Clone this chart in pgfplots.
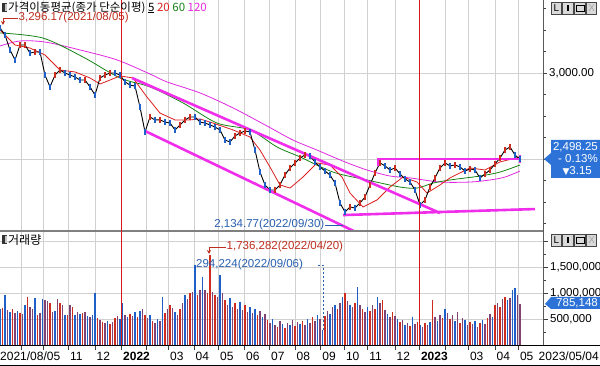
\documentclass[border=0pt]{standalone}
\usepackage{pgfplots}
\pgfplotsset{compat=1.18}
\usepackage{pgfplotstable}
\usetikzlibrary{arrows.meta}
\usepackage{fontspec}
\setmainfont{Liberation Sans}
\newfontfamily\kr{Noto Sans CJK KR}
\newfontfamily\sym{DejaVu Sans}

\definecolor{upred}{RGB}{205,45,30}
\definecolor{dnblue}{RGB}{30,95,200}
\definecolor{mixp}{RGB}{128,66,115}
\definecolor{ma20}{RGB}{220,30,30}
\definecolor{ma60}{RGB}{20,130,20}
\definecolor{ma120}{RGB}{225,40,225}
\definecolor{trend}{RGB}{240,45,235}
\definecolor{janline}{RGB}{215,25,25}
\definecolor{gridg}{RGB}{208,208,208}
\definecolor{boxblue}{RGB}{45,115,215}
\definecolor{annred}{RGB}{190,45,30}
\definecolor{annblue}{RGB}{40,95,175}

\pgfplotsset{
  months/.style={xtick={4.34,8.66,13.66,19,24.3,29.34,33.7,38.8,43.7,48.9,53.9,59,64.14,68.86,73.54,79,83.86,89,93.66,99,103.66}},
  volbar/.style={ycomb, line width=1.9pt, no markers},
}

% price close (x = 5-px slot index), class r = up, b = down
\pgfplotstableread{
k c d
0 3262 b
1 3221 b
2 3134 b
3 3076 b
4 3163 r
5 3163 r
6 3116 b
7 3122 r
8 3122 b
9 2988 b
10 2919 b
11 2988 r
12 3017 r
13 3000 b
14 2988 b
15 2977 b
16 2959 b
17 2959 r
18 2919 b
19 2872 b
20 2971 r
21 2988 r
22 3000 r
23 3000 b
24 2988 b
25 2948 b
26 2930 b
27 2924 b
28 2802 b
29 2657 b
30 2744 r
31 2727 b
32 2727 r
33 2715 b
34 2709 b
35 2669 b
36 2698 r
37 2727 r
38 2744 r
39 2744 b
40 2715 b
41 2709 b
42 2698 b
43 2686 b
44 2669 b
45 2610 b
46 2599 b
47 2634 r
48 2651 r
49 2663 r
50 2657 b
51 2552 b
52 2424 b
53 2349 b
54 2320 b
55 2320 r
56 2349 r
57 2407 r
58 2448 r
59 2477 r
60 2506 r
61 2523 r
62 2517 b
63 2483 b
64 2454 b
65 2430 b
66 2407 b
67 2360 b
68 2244 b
69 2192 b
70 2221 r
71 2215 b
72 2244 r
73 2279 r
74 2349 r
75 2419 r
76 2477 r
77 2460 b
78 2436 b
79 2448 r
80 2413 b
81 2384 b
82 2366 b
83 2320 b
84 2233 b
85 2262 r
86 2337 r
87 2390 r
88 2448 r
89 2477 r
90 2460 b
91 2465 r
92 2454 b
93 2430 b
94 2442 r
95 2436 b
96 2390 b
97 2413 r
98 2436 r
99 2471 r
100 2506 r
101 2552 r
102 2570 r
103 2523 b
104 2498 b
}\pricetab

\pgfplotstableread{
k v
0 3250
3 3163
6 3145
9 3105
12 3017
15 3006
18 2971
20 2936
22 2959
24 2983
26.6 2971
29.4 2860
32 2767
35 2727
38 2727
40 2733
42.6 2709
46.6 2669
50 2628
52 2552
54 2453
56 2349
58 2331
60.6 2395
63.4 2477
66 2465
68.4 2395
70 2302
72.6 2221
75.4 2262
78 2337
80.6 2395
83.4 2366
85.4 2302
88 2349
90 2390
94 2448
97 2436
100 2483
104 2512
}\matwenty

\pgfplotstableread{
k v
0 3233
8.6 3203
16.6 3093
24 2971
30 2919
36.6 2826
43.4 2709
50 2669
55.4 2570
60 2512
66.6 2424
73.4 2378
80 2337
83.4 2331
86.6 2360
90 2378
96 2401
100 2424
104 2465
}\masixty

\pgfplotstableread{
k v
0 3157
4 3186
9 3180
16 3134
23.4 3076
30 2994
33.4 2948
40 2884
46.6 2797
53.4 2692
58.6 2610
63.4 2552
69 2483
73.4 2436
78 2401
82 2390
88 2366
94 2366
98 2378
101 2395
104 2430
}\maonetwenty

% volume, x = 2.5-px slot index j; three tables by bar colour
\pgfplotstableread{
j v
1 717000
5 698000
8 620000
11 930000
15 581000
20 814000
24 814000
27 581000
29 736000
33 620000
39 523000
41 446000
44 407000
46 523000
52 601000
55 543000
58 581000
61 465000
66 620000
68 775000
72 698000
76 1008000
79 969000
83 1008000
84 1736282
86 969000
90 872000
94 814000
98 775000
103 581000
107 485000
111 349000
114 329000
118 368000
121 465000
125 543000
130 562000
135 698000
138 1008000
142 814000
145 698000
148 659000
150 698000
153 872000
157 640000
160 446000
164 368000
167 446000
170 426000
173 872000
177 523000
180 504000
184 426000
188 446000
192 426000
195 523000
198 775000
200 736000
202 930000
}\volred

\pgfplotstableread{
j v
0 698000
2 969000
4 640000
7 659000
10 775000
14 911000
17 891000
22 659000
26 581000
30 581000
32 601000
35 562000
37 581000
38 1008000
43 465000
48 504000
49 814000
51 543000
54 640000
56 659000
60 581000
63 504000
65 930000
70 640000
74 969000
78 1550000
81 1318000
88 1357000
92 911000
96 833000
100 736000
102 698000
105 543000
109 504000
113 407000
116 388000
120 407000
123 504000
127 581000
129 294224
132 601000
134 775000
137 930000
140 775000
143 1124000
147 736000
151 930000
155 601000
159 504000
162 388000
165 543000
168 388000
172 446000
175 465000
178 698000
182 465000
186 485000
190 465000
193 485000
197 543000
203 872000
205 1066000
206 1105000
}\volblue

\pgfplotstableread{
j v
3 678000
6 620000
9 601000
12 736000
13 698000
16 620000
18 872000
19 853000
21 640000
23 891000
25 775000
28 775000
31 640000
34 640000
36 543000
40 485000
42 426000
45 446000
47 562000
50 581000
53 562000
57 698000
59 523000
62 426000
64 465000
67 698000
69 717000
71 581000
73 814000
75 891000
77 1027000
80 1066000
82 1066000
85 1027000
87 930000
89 1008000
91 775000
93 736000
95 698000
97 678000
99 640000
101 620000
104 659000
106 601000
108 426000
110 388000
112 465000
115 426000
117 485000
119 446000
122 388000
124 426000
126 465000
128 504000
131 659000
133 736000
136 814000
139 853000
141 736000
144 775000
146 640000
149 775000
152 814000
154 678000
156 543000
158 562000
161 485000
163 426000
166 407000
169 349000
171 388000
174 543000
176 581000
179 620000
181 581000
183 640000
185 523000
187 388000
189 407000
191 349000
194 407000
196 601000
199 814000
201 891000
204 911000
207 969000
208 785148
}\volmix

\begin{document}
\begin{tikzpicture}
\useasboundingbox (0pt,0pt) rectangle (600pt,366pt);

% ---------------- price panel ----------------
\begin{axis}[
  at={(0pt,136pt)}, anchor=south west, scale only axis,
  width=543pt, height=230pt,
  xmin=0, xmax=108.6, ymin=2087.2, ymax=3424.4,
  axis line style={draw=none},
  months, xticklabel={\relax}, xtick style={draw=none},
  xmajorgrids, ymajorgrids, grid style={gridg, line width=0.7pt},
  ytick={2500,3000}, yticklabels={{},{3,000.00}},
  minor ytick={2125,2250,2375,2625,2750,2875,3125,3250,3375},
  ytick pos=right, yticklabel pos=right,
  tick align=outside, major tick length=4pt, minor tick length=3pt,
  ytick style={black!75, line width=0.7pt},
  yticklabel style={font=\fontsize{11.5}{13}\selectfont, anchor=west, inner sep=0pt, xshift=2pt},
  scaled y ticks=false,
]
\addplot[ma120, line width=0.8pt, smooth, tension=0.5] table[x=k,y=v] {\maonetwenty};
\addplot[ma60, line width=0.8pt, smooth, tension=0.5] table[x=k,y=v] {\masixty};
\addplot[ma20, line width=0.8pt] table[x=k,y=v] {\matwenty};
\addplot[scatter, only marks, mark size=3pt, scatter src=explicit symbolic,
  scatter/classes={r={mark=|, draw=upred, line width=1.1pt}, b={mark=|, draw=dnblue, line width=1.1pt}}]
  table[x=k, y=c, meta=d] {\pricetab};
\addplot[black, line width=0.9pt] table[x=k,y=c] {\pricetab};
% trend lines
\addplot[trend, line width=2.6pt] coordinates {(26.4,2971) (88,2186)};
\addplot[trend, line width=2.6pt] coordinates {(29,2663) (71.2,2075)};
\addplot[trend, line width=2.6pt] coordinates {(68.6,2174) (107,2209)};
\addplot[trend, line width=2.6pt] coordinates {(75.6,2459) (75.6,2500) (104,2500)};
\addplot[trend, line width=2.6pt] coordinates {(104,2523) (104,2477)};
\end{axis}

% ---------------- volume panel ----------------
\begin{axis}[
  at={(0pt,21pt)}, anchor=south west, scale only axis,
  width=543pt, height=113pt,
  xmin=0, xmax=108.6, ymin=0, ymax=2189940,
  axis line style={draw=none},
  months,
  xticklabels={{},{},11,12,\textbf{2022},{},03,04,05,06,07,08,09,10,11,12,\textbf{2023},{},03,04,05},
  xmajorgrids, ymajorgrids, grid style={gridg, line width=0.7pt},
  ytick={500000,1000000,1500000,2000000}, yticklabels={{500,000},{1,000,000},{1,500,000},{}},
  minor ytick={250000,750000,1250000,1750000},
  xtick pos=left, ytick pos=right, yticklabel pos=right,
  tick align=outside, major tick length=5pt, minor tick length=3pt,
  tick style={black!75, line width=0.7pt},
  xticklabel style={font=\fontsize{12}{14}\selectfont, anchor=west, inner sep=0pt, xshift=1.5pt, yshift=-6pt},
  yticklabel style={font=\fontsize{11.5}{13}\selectfont, anchor=west, inner sep=0pt, xshift=2pt},
  scaled y ticks=false,
]
\addplot[volbar, color=mixp] table[x expr=\thisrow{j}/2, y=v] {\volmix};
\addplot[volbar, color=upred] table[x expr=\thisrow{j}/2, y=v] {\volred};
\addplot[volbar, color=dnblue] table[x expr=\thisrow{j}/2, y=v] {\volblue};
\end{axis}

% ---------------- decorations (pixel coordinates, y downward) ----------------
\begin{scope}[x=1pt, y=-1pt, shift={(0pt,366pt)}]
\draw[black!65, line width=1pt] (543,0) -- (543,345);
\draw[black!50, line width=1.4pt] (0,231) -- (543,231);
\draw[black, line width=1pt] (0,345.5) -- (600,345.5);
\draw[black, line width=1pt] (0,365.5) -- (600,365.5);
% year separators (January 2022 / January 2023)
\draw[janline, line width=1.2pt] (121.2,0) -- (121.2,345);
\draw[janline, line width=1.2pt] (419.3,0) -- (419.3,345);

% titles
\fill[black!80] (1.5,3.5) rectangle (6.5,12.5);
\fill[gray!45] (4.5,4.5) rectangle (6.5,11.5);
\node[anchor=west, inner sep=0pt, font=\kr\fontsize{11.5}{13}\selectfont] at (8,7.5)
  {가격이동평균(종가 단순이평) \underline{5} \textcolor{ma20}{20} \textcolor{ma60}{60} \textcolor{ma120}{120}};
\fill[black!80] (1.5,235) rectangle (6.5,244);
\fill[gray!45] (4.5,236) rectangle (6.5,243);
\node[anchor=west, inner sep=0pt, font=\kr\fontsize{12}{14}\selectfont] at (8,240) {거래량};

% buttons
\foreach \yy in {2.5,234.5}{
  \foreach \i in {0,1,2,3}{
    \filldraw[fill=gray!30, draw=gray!55!black, line width=0.5pt] ({551+11.7*\i},\yy) rectangle ({561.5+11.7*\i},{\yy+11.5});
  }
  \node[inner sep=0pt, font=\fontsize{10}{11}\selectfont] at (556.3,{\yy+5.8}) {L};
  \fill[black] (567.2,{\yy+2.5}) rectangle (569.0,{\yy+9});
  \draw[black, line width=1pt] (576.5,{\yy+3}) rectangle (584,{\yy+8.8});
  \node[inner sep=0pt, gray!70, font=\fontsize{10}{11}\selectfont] at (591.7,{\yy+5.8}) {X};
}

% price box
\fill[boxblue] (551,140) -- (600,140) -- (600,178) -- (551,178) -- (551,165) -- (544,159) -- (551,153) -- cycle;
\node[anchor=east, inner sep=0pt, white, font=\fontsize{11.5}{13}\selectfont] at (598,147) {2,498.25};
\node[anchor=east, inner sep=0pt, white, font=\fontsize{11.5}{13}\selectfont] at (598,159) {- 0.13\%};
\node[anchor=east, inner sep=0pt, white, font=\fontsize{11.5}{13}\selectfont] at (592,171) {{\sym\fontsize{9}{10}\selectfont ▼}3.15};

% volume box
\fill[boxblue] (545,304) -- (551,297) -- (600,297) -- (600,309) -- (551,309) -- cycle;
\node[anchor=east, inner sep=0pt, white, font=\fontsize{11.5}{13}\selectfont] at (598,303) {785,148};

% annotations
\draw[annred, line width=0.8pt] (3,18) -- (18,18);
\draw[annred, line width=0.8pt, -{Stealth[length=4pt,width=4pt]}] (3,18) -- (3,25);
\node[anchor=west, inner sep=0pt, annred, font=\fontsize{11.5}{13}\selectfont] at (18.5,18) {3,296.17(2021/08/05)};
\draw[annblue, line width=0.8pt] (325,225) -- (343,225);
\node[anchor=east, inner sep=0pt, annblue, font=\fontsize{11.5}{13}\selectfont] at (324.5,225) {2,134.77(2022/09/30)};
\draw[annred, line width=0.8pt] (209,247) -- (226,247);
\draw[annred, line width=0.8pt, -{Stealth[length=4pt,width=4pt]}] (209,247) -- (209,254);
\node[anchor=west, inner sep=0pt, annred, font=\fontsize{11.5}{13}\selectfont] at (226.5,247) {1,736,282(2022/04/20)};
\node[anchor=west, inner sep=0pt, annblue, font=\fontsize{11.5}{13}\selectfont] at (196,265) {294,224(2022/09/06)};
\draw[annblue, line width=0.8pt, dash pattern=on 2pt off 2pt] (318,265) -- (323,265) -- (323,330);

% date end labels
\node[anchor=west, inner sep=0pt, font=\fontsize{12}{14}\selectfont] at (0,356) {2021/08/05};
\node[anchor=east, inner sep=0pt, font=\fontsize{12}{14}\selectfont] at (599,356) {2023/05/04};
\end{scope}
\end{tikzpicture}
\end{document}
